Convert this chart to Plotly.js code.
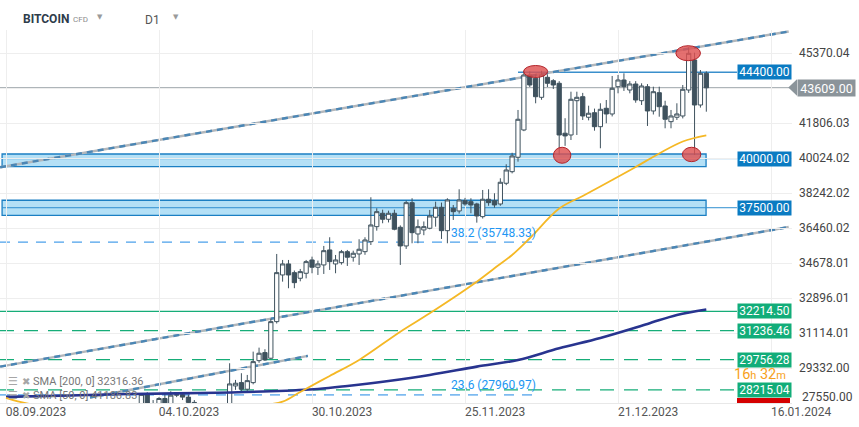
<!DOCTYPE html>
<html><head><meta charset="utf-8">
<script src="https://cdn.plot.ly/plotly-3.0.1.min.js"></script>
<style>html,body{margin:0;padding:0;background:#fff;}#chart{width:859px;height:427px;}</style>
</head><body><div id="chart"></div>
<script>
// ---------------- DATA ----------------
const dates = [
'2023-09-08','2023-09-09','2023-09-10','2023-09-11','2023-09-12','2023-09-13','2023-09-14','2023-09-15','2023-09-16','2023-09-17','2023-09-18','2023-09-19','2023-09-20','2023-09-21','2023-09-22','2023-09-23','2023-09-24','2023-09-25','2023-09-26','2023-09-27','2023-09-28','2023-09-29','2023-09-30',
'2023-10-01','2023-10-02','2023-10-03','2023-10-04','2023-10-05','2023-10-06','2023-10-07','2023-10-08','2023-10-09','2023-10-10','2023-10-11','2023-10-12','2023-10-13','2023-10-14','2023-10-15','2023-10-16','2023-10-17','2023-10-18','2023-10-19','2023-10-20','2023-10-21','2023-10-22','2023-10-23','2023-10-24','2023-10-25','2023-10-26','2023-10-27','2023-10-28','2023-10-29','2023-10-30','2023-10-31',
'2023-11-01','2023-11-02','2023-11-03','2023-11-04','2023-11-05','2023-11-06','2023-11-07','2023-11-08','2023-11-09','2023-11-10','2023-11-11','2023-11-12','2023-11-13','2023-11-14','2023-11-15','2023-11-16','2023-11-17','2023-11-18','2023-11-19','2023-11-20','2023-11-21','2023-11-22','2023-11-23','2023-11-24','2023-11-25','2023-11-26','2023-11-27','2023-11-28','2023-11-29','2023-11-30',
'2023-12-01','2023-12-02','2023-12-03','2023-12-04','2023-12-05','2023-12-06','2023-12-07','2023-12-08','2023-12-09','2023-12-10','2023-12-11','2023-12-12','2023-12-13','2023-12-14','2023-12-15','2023-12-16','2023-12-17','2023-12-18','2023-12-19','2023-12-20','2023-12-21','2023-12-22','2023-12-23','2023-12-24','2023-12-25','2023-12-26','2023-12-27','2023-12-28','2023-12-29','2023-12-30','2023-12-31',
'2024-01-01','2024-01-02','2024-01-03','2024-01-04','2024-01-05'];

const open = [
26240,25900,25890,25840,25160,25840,26230,26530,26600,26570,26530,26760,27210,27130,26570,26580,26580,26250,26300,26220,26360,27020,26910,
26970,27990,27500,27430,27780,27410,27950,27970,27850,27580,27390,26870,26750,26860,26860,27160,28420,28589,28252,28588,29709,30117,29831,31696,34074,34635,34192,33906,34161,34838,34467,
34584,35348,34635,34701,35261,34977,35144,35261,35771,36535,37217,36911,37217,36504,35552,37757,36163,36367,36453,37014,37523,36331,37470,37335,37859,37808,37691,37045,37931,37859,
37691,38746,39336,40070,41461,44263,44094,43126,44145,43972,43840,41296,41206,42953,43157,42109,42342,41629,42566,42276,43666,44008,43498,43804,42953,43666,42429,43361,42683,41884,42109,
42174,43498,45027,42734,44349];
const high = [
26440,25950,26000,25880,26500,26400,26800,26850,26670,26620,27400,27480,27380,27150,26740,26630,26740,26420,26390,26800,27300,27220,27080,
28060,28100,27700,27850,28050,28150,28050,28100,27980,27700,27480,26950,27100,26980,27300,29576,28726,29067,28980,30168,30371,30290,31850,35144,34838,34838,34300,34380,34838,35007,34804,
35552,35995,35093,35348,35348,35312,35893,35995,38033,37472,37400,37350,37400,36600,37859,37982,36900,36800,37386,37808,37760,37982,37640,38440,38000,37982,37750,38404,38440,38236,
39000,39713,40300,42480,44480,44450,44300,44480,44300,44050,43950,42060,43412,43412,43350,42698,42550,42821,42989,44212,44263,44349,43950,43950,43840,43800,43666,43666,42950,42480,42821,
43753,45674,45400,44517,44450];
const low = [
25650,25800,25600,24900,25130,25760,26130,26230,26470,26400,26390,26680,26880,26390,26500,26500,26130,26000,26100,26110,26340,26680,26880,
26950,27350,27200,27250,27350,27200,27850,27700,27350,27250,26600,26550,26700,26800,26820,27100,28220,28115,28166,28500,29600,29700,29780,31600,33733,33397,33400,33750,33900,34161,34074,
34125,34329,34161,34600,34533,34752,34584,35100,35600,36331,36708,36750,36350,34584,35400,35689,35689,36100,36400,36535,35909,35689,36877,37200,37600,37217,36739,36950,37600,37500,
37600,38650,39250,39846,41400,43650,42821,43000,43650,43550,40187,40650,40950,41206,41970,41950,41425,40529,41802,42150,43330,43450,43330,42850,42734,41665,42250,42138,41547,41547,41970,
42050,43350,40187,42600,42392];
const close = [
25900,25890,25840,25160,25840,26230,26530,26600,26570,26530,26760,27210,27130,26570,26580,26580,26250,26300,26220,26360,27020,26910,26970,
27990,27500,27430,27780,27410,27950,27970,27850,27580,27390,26870,26750,26860,26860,27160,28522,28558,28252,28690,29658,30086,29745,31696,34192,34635,34074,33682,34243,34752,34467,34635,
35312,34752,34838,35261,34977,35179,35384,35857,36621,37299,36911,37217,36403,35552,37757,36229,36535,36535,37080,37523,36331,37895,37299,37895,37691,37640,37080,37931,37758,37640,
38797,39423,40136,42006,44263,43753,43157,44263,43840,43753,41206,41158,43025,43126,42174,42314,41629,42515,42276,43585,44008,43666,43804,42989,43702,42429,43412,42647,42006,42174,42276,
43534,45368,42734,44349,43609];

const sma50Dates = ['2023-09-08','2023-09-10','2023-09-14','2023-09-23','2023-10-03','2023-10-13','2023-10-20','2023-10-25','2023-10-28','2023-11-02','2023-11-07','2023-11-14','2023-11-19','2023-11-27','2023-11-30','2023-12-03','2023-12-06','2023-12-11','2023-12-15','2023-12-20','2023-12-24','2023-12-28','2024-01-01','2024-01-05'];
const sma50Values = [27809,27631,27400,27150,27050,27150,27380,27620,28114,28930,29745,31186,32124,33733,34416,35093,35944,37457,38099,38914,39576,40264,40875,41187];

const sma200Dates = ['2023-09-08','2023-09-19','2023-09-29','2023-10-11','2023-10-23','2023-10-31','2023-11-05','2023-11-12','2023-11-19','2023-11-27','2023-12-04','2023-12-11','2023-12-18','2023-12-26','2023-12-31','2024-01-05'];
const sma200Values = [27860,27930,28010,28060,28150,28267,28420,28675,28980,29403,29744,30340,30865,31578,32037,32316];

const levelValues = [44400.00, 40000.00, 37500.00, 32214.50, 31236.46, 29756.28, 28215.04];
const levelLabels = ['44400.00','40000.00','37500.00','32214.50','31236.46','29756.28','28215.04'];
const zoneLevels = [40000.00, 37500.00];
const zoneLow = [39591, 37110];
const zoneHigh = [40238, 37880];
const fibValues = [35748.33, 27960.97];
const fibLabels = ['38.2 (35748.33)', '23.6 (27960.97)'];
const lastPrice = 43609.00;
const lastPriceLabel = '43609.00';

const channelStartDates = ['2023-09-07 00:00', '2023-09-07 00:00', '2023-09-22 06:30'];
const channelStartValues = [39560, 29403, 27829];
const channelEndDates = ['2024-01-19 00:00', '2024-01-19 00:00', '2023-10-29 07:00'];
const channelEndValues = [46480, 36515, 29948];

const circleDates = ['2023-12-07 00:00', '2024-01-01 22:00', '2023-12-11 12:00', '2024-01-02 12:00'];
const circleValues = [44441, 45373, 40172, 40213];

const yTickVals = [27550.00, 29332.00, 31114.01, 32896.01, 34678.01, 36460.02, 38242.02, 40024.02, 41806.03, 43588.03, 45370.04];
const yTickText = ['', '29332.00', '31114.01', '32896.01', '34678.01', '36460.02', '38242.02', '40024.02', '41806.03', '', '45370.04'];
const bottomTickLabel = '27550.00';
const xTickVals = ['2023-09-08','2023-10-04','2023-10-30','2023-11-25','2023-12-21','2024-01-16'];
const xTickText = ['08.09.2023','04.10.2023','30.10.2023','25.11.2023','21.12.2023','16.01.2024'];

const legendTexts = ['SMA [200, 0] 32316.36', 'SMA [50, 0] 41186.83'];
const instrument = 'BITCOIN', instrumentType = 'CFD', timeframe = 'D1', countdown = ['16','32'];

// ---------------- LAYOUT HELPERS ----------------
const PW = 792, PT = 30, PH = 373;
const px2x = px => px / PW;
const py2y = py => (PT + PH - py) / PH;
const xStart = '2023-09-06 23:32', xEnd = '2024-01-19 13:26';
const labelDate = '2024-01-10 05:00';
const zoneStart = '2023-09-07 08:00', zoneEnd = '2024-01-04 23:00';
const fibEnd = '2023-12-06 13:00', fibTextDate = '2023-11-22 07:00';
const resStart = '2023-12-04 00:00';

const candleColor = '#3f525e';
const blue = '#1b7fc3', green = '#16ad78', fibBlue = '#1e88e5';

const traces = [
  {type:'scatter', mode:'lines', x:sma200Dates, y:sma200Values, line:{color:'#28348f', width:2.6, shape:'spline'}, hoverinfo:'skip'},
  {type:'scatter', mode:'lines', x:sma50Dates, y:sma50Values, line:{color:'#f5b825', width:1.8, shape:'spline'}, hoverinfo:'skip'},
  {type:'candlestick', x:dates, open:open, high:high, low:low, close:close,
   increasing:{line:{color:candleColor, width:1}, fillcolor:'#ffffff'},
   decreasing:{line:{color:candleColor, width:1}, fillcolor:candleColor},
   whiskerwidth:0, hoverinfo:'skip'}
];

const shapes = [];
zoneLevels.forEach((lv, i) => {
  shapes.push({type:'rect', xref:'x', yref:'y', x0:zoneStart, x1:zoneEnd, y0:zoneLow[i], y1:zoneHigh[i],
    fillcolor:'#b4e0f6', line:{color:blue, width:1.3}, layer:'below'});
});
shapes.push({type:'line', xref:'x', yref:'y', x0:xStart, x1:xEnd, y0:lastPrice, y1:lastPrice, line:{color:'#8a949a', width:1}, layer:'below'});
levelValues.forEach((lv, i) => {
  let x0 = xStart, col = green, dash = 'solid', w = 1.2;
  if (i === 0) { x0 = resStart; col = '#3a8fcc'; w = 1.5; }
  else if (i === 1 || i === 2) { x0 = zoneStart; col = '#2f8fd0'; w = 1; }
  else if (i > 3) { dash = '14px,10px'; }
  shapes.push({type:'line', xref:'x', yref:'y', x0:x0, x1:labelDate, y0:lv, y1:lv, line:{color:col, width:w, dash:dash}, layer:'below'});
});
fibValues.forEach(fv => {
  shapes.push({type:'line', xref:'x', yref:'y', x0:xStart, x1:fibEnd, y0:fv, y1:fv, line:{color:fibBlue, width:1, dash:'10px,8px'}, layer:'below'});
});
channelStartDates.forEach((d, i) => {
  const base = {type:'line', xref:'x', yref:'y', x0:d, y0:channelStartValues[i], x1:channelEndDates[i], y1:channelEndValues[i], layer:'below'};
  shapes.push(Object.assign({}, base, {line:{color:'#b3b7bb', width:2.4}}));
  shapes.push(Object.assign({}, base, {line:{color:'#4a86b5', width:2.4, dash:'6px,5px'}}));
});
const circleSize = [[12,6],[12.3,7.5],[8.7,8],[9.2,7.2]];
circleDates.forEach((d, i) => {
  shapes.push({type:'circle', xref:'x', yref:'y', xsizemode:'pixel', ysizemode:'pixel', xanchor:d, yanchor:circleValues[i],
    x0:-circleSize[i][0], x1:circleSize[i][0], y0:-circleSize[i][1], y1:circleSize[i][1],
    fillcolor:'rgba(222,80,80,0.82)', line:{color:'#b3252b', width:1}, layer:'above'});
});
shapes.push({type:'rect', xref:'paper', yref:'paper', x0:px2x(737), x1:px2x(790), y0:py2y(403), y1:py2y(398), fillcolor:'#d50000', line:{width:0}});
shapes.push({type:'path', xref:'paper', yref:'paper',
  path:`M ${px2x(788.3)} ${py2y(87.6)} L ${px2x(797)} ${py2y(79.3)} L ${px2x(797)} ${py2y(95.8)} Z`,
  fillcolor:'#8b949a', line:{width:0}});

const annotations = [];
const F = 'Roboto, sans-serif';
annotations.push({xref:'paper', yref:'paper', x:px2x(21), y:py2y(18.5), xanchor:'left', yanchor:'middle', showarrow:false,
  text:'<b>'+instrument+'</b>', font:{family:F, size:12, color:'#2e3c4a'}});
annotations.push({xref:'paper', yref:'paper', x:px2x(71), y:py2y(19.3), xanchor:'left', yanchor:'middle', showarrow:false,
  text:instrumentType, font:{family:F, size:8, color:'#8c8c8c'}});
annotations.push({xref:'paper', yref:'paper', x:px2x(95), y:py2y(17), xanchor:'left', yanchor:'middle', showarrow:false,
  text:'▼', font:{family:'DejaVu Sans', size:7, color:'#9a9a9a'}});
annotations.push({xref:'paper', yref:'paper', x:px2x(142.5), y:py2y(19.5), xanchor:'left', yanchor:'middle', showarrow:false,
  text:timeframe, font:{family:F, size:12, color:'#555'}});
annotations.push({xref:'paper', yref:'paper', x:px2x(171), y:py2y(17), xanchor:'left', yanchor:'middle', showarrow:false,
  text:'▼', font:{family:'DejaVu Sans', size:7, color:'#9a9a9a'}});
fibValues.forEach((fv, i) => {
  annotations.push({xref:'x', yref:'y', x:fibTextDate, y:fv, xanchor:'left', yanchor:'middle', yshift:9.5, showarrow:false,
    text:fibLabels[i], font:{family:F, size:12, color:'#2196f3'}});
});
legendTexts.forEach((t, i) => {
  const py = i === 0 ? 381.5 : 395.5;
  annotations.push({xref:'paper', yref:'paper', x:px2x(6), y:py2y(py), xanchor:'left', yanchor:'middle', showarrow:false,
    text:'☰', font:{family:'DejaVu Sans', size:11, color:'#a6a6a6'}});
  annotations.push({xref:'paper', yref:'paper', x:px2x(20), y:py2y(py), xanchor:'left', yanchor:'middle', showarrow:false,
    text:'✖', font:{family:'DejaVu Sans', size:10, color:'#a6a6a6'}});
  annotations.push({xref:'paper', yref:'paper', x:px2x(31), y:py2y(py), xanchor:'left', yanchor:'middle', showarrow:false,
    text:t, font:{family:F, size:11, color:'#777'}});
});
annotations.push({xref:'paper', yref:'paper', x:px2x(732), y:py2y(374.5), xanchor:'left', yanchor:'middle', showarrow:false,
  text:countdown[0]+'<span style="font-size:11px">h</span> '+countdown[1]+'<span style="font-size:11px">m</span>',
  font:{family:F, size:14.5, color:'#f7a11a'}});
levelValues.forEach((lv, i) => {
  const bg = i < 3 ? '#0a7bc2' : '#12ad79';
  annotations.push({xref:'paper', yref:'y', x:px2x(737), y:lv, xanchor:'left', yanchor:'middle', showarrow:false,
    text:levelLabels[i], width:53, height:14, bgcolor:bg, borderpad:0, font:{family:F, size:12, color:'#ffffff'}});
});
annotations.push({xref:'paper', yref:'y', x:px2x(796.7), y:lastPrice, xanchor:'left', yanchor:'middle', showarrow:false,
  text:lastPriceLabel, width:57, height:16, bgcolor:'#8b949a', borderpad:0, font:{family:F, size:12.5, color:'#ffffff'}});
annotations.push({xref:'paper', yref:'paper', x:px2x(800), y:py2y(397), xanchor:'left', yanchor:'middle', showarrow:false,
  text:bottomTickLabel, font:{family:F, size:12, color:'#444'}});

const layout = {
  width:859, height:427,
  margin:{l:0, r:859-PW, t:PT, b:427-PT-PH, pad:0},
  paper_bgcolor:'#ffffff', plot_bgcolor:'#ffffff',
  showlegend:false,
  font:{family:F, size:12, color:'#444'},
  xaxis:{type:'date', range:[xStart, xEnd], tickvals:xTickVals, ticktext:xTickText, ticks:'',
    showgrid:true, gridcolor:'#eeeeee', gridwidth:1, zeroline:false, showline:true, linecolor:'#e8e8e8',
    rangeslider:{visible:false}, ticklabelshift:30, ticklabelstandoff:-2, tickfont:{family:F, size:12, color:'#555'}, fixedrange:true},
  yaxis:{side:'right', range:[27550, 46555], tickvals:yTickVals, ticktext:yTickText, ticks:'',
    showgrid:true, gridcolor:'#eeeeee', gridwidth:1, zeroline:false, showline:false,
    ticklabelstandoff:6, tickfont:{family:F, size:12, color:'#444'}, fixedrange:true},
  shapes:shapes, annotations:annotations,
  boxgap:0.15, boxgroupgap:0.15,
  hovermode:false
};

Plotly.newPlot('chart', traces, layout, {staticPlot:true, displayModeBar:false});
</script></body></html>
